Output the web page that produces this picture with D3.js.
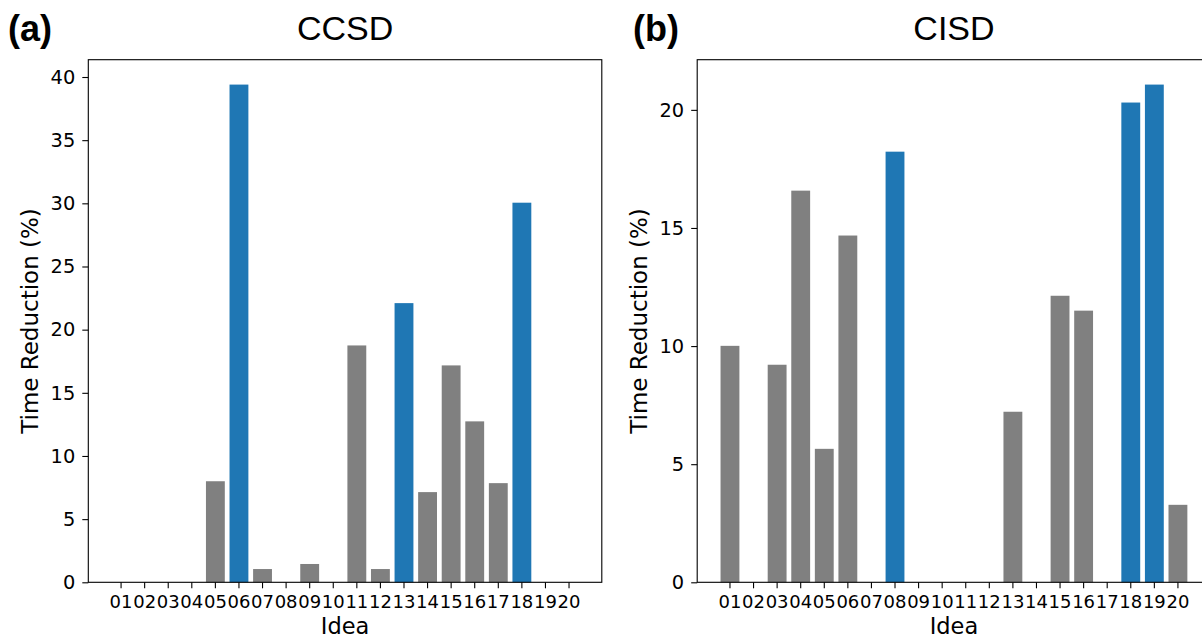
<!DOCTYPE html>
<html>
<head>
<meta charset="utf-8">
<script src="https://cdn.jsdelivr.net/npm/d3@7"></script>
<style>
  html, body { margin: 0; padding: 0; background: #fff; overflow: hidden; }
  svg { display: block; }
  .tick text { fill: #000; }
</style>
</head>
<body>
<svg id="chart" width="1202" height="639"></svg>
<script>
// ---- data ----
const ideas = ["01","02","03","04","05","06","07","08","09","10","11","12","13","14","15","16","17","18","19","20"];
const ccsdValues = [0, 0, 0, 0, 8.0, 39.4, 1.05, 0, 1.45, 0, 18.75, 1.05, 22.1, 7.14, 17.17, 12.74, 7.85, 30.05, 0, 0];
const ccsdHighlight = ["06", "13", "18"];
const cisdValues = [10.01, 0, 9.21, 16.58, 5.65, 14.68, 0, 18.23, 0, 0, 0, 0, 7.22, 0, 12.13, 11.5, 0, 20.31, 21.07, 3.28];
const cisdHighlight = ["08", "18", "19"];
const ccsdYTicks = [0, 5, 10, 15, 20, 25, 30, 35, 40];
const cisdYTicks = [0, 5, 10, 15, 20];
const panels = [
  { tag: "(a)", title: "CCSD", values: ccsdValues, highlight: ccsdHighlight, yTicks: ccsdYTicks },
  { tag: "(b)", title: "CISD", values: cisdValues, highlight: cisdHighlight, yTicks: cisdYTicks }
];

// ---- layout ----
const svg = d3.select("#chart");
const plotTop = 59.7, plotBottom = 582.3, plotW = 513.5;
const lefts = [88.3, 697.2];
const tagX = [8, 633];
const grey = "#808080", blue = "#1f77b4";
const tickFont = "DejaVu Sans, sans-serif";

panels.forEach((p, i) => {
  const x0 = lefts[i];
  const x = d3.scaleBand().domain(ideas).range([x0, x0 + plotW])
    .paddingInner(0.2).paddingOuter(0.99).align(0.5);
  const y = d3.scaleLinear().domain([0, d3.max(p.values) * 1.05]).range([plotBottom, plotTop]);
  const g = svg.append("g");

  // bars
  g.selectAll("rect.bar").data(ideas.map((id, k) => ({ id, v: p.values[k] })))
    .join("rect").attr("class", "bar")
    .attr("x", d => x(d.id)).attr("width", x.bandwidth())
    .attr("y", d => y(d.v)).attr("height", d => y(0) - y(d.v))
    .attr("fill", d => p.highlight.includes(d.id) ? blue : grey);

  // frame
  g.append("rect").attr("x", x0).attr("y", plotTop).attr("width", plotW).attr("height", plotBottom - plotTop)
    .attr("fill", "none").attr("stroke", "#000").attr("stroke-width", 1.1);

  // y axis
  const ya = g.append("g").attr("transform", `translate(${x0},0)`)
    .call(d3.axisLeft(y).tickValues(p.yTicks).tickSize(6).tickPadding(7).tickFormat(d3.format("d")));
  ya.select(".domain").remove();
  ya.selectAll(".tick line").attr("stroke", "#000").attr("stroke-width", 1.1);
  ya.selectAll(".tick text").attr("font-family", tickFont).attr("font-size", 19.4);

  // x axis
  const xa = g.append("g").attr("transform", `translate(0,${plotBottom})`)
    .call(d3.axisBottom(x).tickSize(6).tickPadding(7));
  xa.select(".domain").remove();
  xa.selectAll(".tick line").attr("stroke", "#000").attr("stroke-width", 1.1);
  xa.selectAll(".tick text").attr("font-family", tickFont).attr("font-size", 18);

  // axis labels
  g.append("text").attr("x", x0 + plotW / 2).attr("y", 634)
    .attr("text-anchor", "middle").attr("font-family", tickFont).attr("font-size", 22.5)
    .text("Idea");
  g.append("text")
    .attr("transform", `translate(${x0 - 50.5},${(plotTop + plotBottom) / 2}) rotate(-90)`)
    .attr("text-anchor", "middle").attr("font-family", tickFont).attr("font-size", 23)
    .text("Time Reduction (%)");

  // title
  g.append("text").attr("x", x0 + plotW / 2).attr("y", 39.5)
    .attr("text-anchor", "middle").attr("font-family", "Liberation Sans, Arial, sans-serif")
    .attr("font-size", 34).text(p.title);

  // panel tag
  g.append("text").attr("x", tagX[i]).attr("y", 41)
    .attr("font-family", "Liberation Sans, Arial, sans-serif").attr("font-weight", "bold")
    .attr("font-size", 36).text(p.tag);
});
</script>
</body>
</html>
